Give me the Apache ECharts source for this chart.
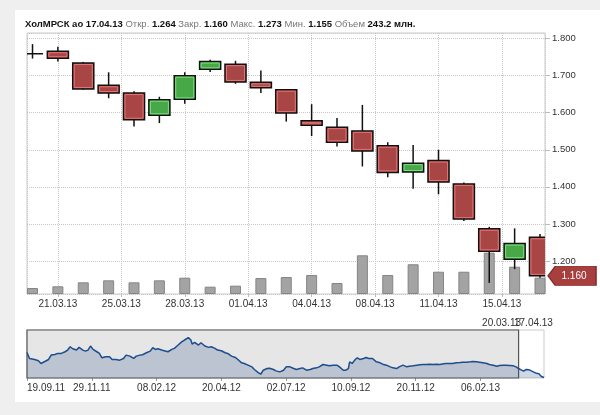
<!DOCTYPE html>
<html>
<head>
<meta charset="utf-8">
<script src="https://cdn.jsdelivr.net/npm/echarts@6/dist/echarts.min.js"></script>
<style>
html, body { margin: 0; padding: 0; background: #efefef; }
#chart { width: 600px; height: 415px; }
</style>
</head>
<body>
<div id="chart"></div>
<script>
// торговые дни в окне
let dates = ['20.03.13', '21.03.13', '22.03.13', '25.03.13', '26.03.13', '27.03.13', '28.03.13',
    '29.03.13', '01.04.13', '02.04.13', '03.04.13', '04.04.13', '05.04.13', '08.04.13',
    '09.04.13', '10.04.13', '11.04.13', '12.04.13', '15.04.13', '16.04.13', '17.04.13'];
let opens  = [1.759, 1.766, 1.734, 1.674, 1.653, 1.593, 1.636, 1.717, 1.731, 1.682, 1.662,
    1.578, 1.561, 1.551, 1.511, 1.440, 1.471, 1.408, 1.287, 1.205, 1.264];
let closes = [1.759, 1.747, 1.664, 1.653, 1.581, 1.635, 1.700, 1.738, 1.683, 1.667, 1.599,
    1.566, 1.520, 1.497, 1.439, 1.464, 1.413, 1.313, 1.226, 1.247, 1.160];
let lows   = [1.746, 1.738, 1.662, 1.639, 1.563, 1.572, 1.624, 1.710, 1.678, 1.653, 1.576,
    1.537, 1.509, 1.455, 1.426, 1.395, 1.380, 1.308, 1.141, 1.178, 1.155];
let highs  = [1.785, 1.778, 1.737, 1.709, 1.658, 1.643, 1.709, 1.743, 1.740, 1.714, 1.663,
    1.623, 1.586, 1.621, 1.520, 1.513, 1.500, 1.412, 1.292, 1.288, 1.273];
// объем, млн.
let volumes = [89, 115, 174, 204, 174, 204, 243, 109, 124, 238, 253, 283, 164, 577, 283,
    443, 332, 332, 616, 407, 243.2];
let xTickLabels = ['21.03.13', '25.03.13', '28.03.13', '01.04.13', '04.04.13', '08.04.13', '11.04.13', '15.04.13'];

// навигатор: номер торгового дня и цена закрытия (до начала окна)
let navDay = [0, 2, 6, 9, 11, 14, 17, 19, 22, 24, 27, 30, 32, 34, 36, 39, 41, 44, 46, 48, 50, 52, 55,
    57, 59, 62, 65, 67, 70, 73, 76, 78, 81, 84, 86, 89, 91, 94, 97, 99, 101, 103, 106, 108, 111, 114,
    116, 119, 122, 124, 127, 129, 130, 132, 133, 135, 137, 140, 143, 145, 148, 150, 153, 156, 158,
    161, 164, 166, 169, 171, 174, 177, 179, 182, 184, 186, 189, 191, 194, 196, 199, 202, 204, 207,
    210, 212, 215, 217, 220, 223, 225, 228, 230, 233, 236, 238, 241, 244, 246, 249, 251, 253, 254,
    256, 258, 260, 262, 265, 267, 269, 270, 272, 275, 278, 280, 283, 286, 288, 291, 293, 296, 299,
    301, 304, 307, 309, 312, 314, 317, 320, 322, 325, 328, 330, 333, 335, 338, 341, 343, 346, 349,
    351, 354, 356, 359, 362, 364, 367, 370, 372, 375, 377, 380, 383, 385];
let navClose = [2.824, 2.424, 2.358, 2.269, 2.091, 2.224, 2.358, 2.647, 2.691, 2.758, 2.758, 2.869,
    2.98, 3.202, 3.069, 2.98, 3.158, 2.98, 2.913, 2.98, 3.247, 3.024, 2.869, 2.758, 2.469, 2.536,
    2.536, 2.358, 2.358, 2.313, 2.424, 2.647, 2.58, 2.424, 2.58, 2.647, 2.669, 2.802, 2.913, 3.136,
    3.024, 3.069, 2.98, 2.936, 2.869, 3.024, 3.091, 3.313, 3.536, 3.647, 3.802, 3.647, 3.38, 3.491,
    3.602, 3.313, 3.469, 3.247, 3.158, 3.202, 3.091, 2.98, 2.936, 2.802, 2.758, 2.58, 2.491, 2.358,
    2.136, 2.091, 1.98, 1.869, 1.691, 1.491, 1.38, 1.647, 1.758, 1.78, 1.691, 1.602, 1.536, 1.647,
    1.869, 1.869, 1.758, 1.691, 1.758, 1.802, 1.647, 1.691, 1.758, 1.802, 1.869, 2.024, 1.98, 1.936,
    1.98, 1.98, 1.869, 1.647, 1.647, 1.758, 2.202, 2.091, 2.313, 2.469, 2.358, 2.424, 2.491, 2.424,
    2.536, 2.424, 2.202, 2.136, 2.047, 1.98, 1.869, 1.802, 1.758, 1.869, 1.98, 1.869, 1.913, 1.936,
    1.98, 2.002, 2.024, 2.024, 2.047, 2.024, 2.047, 2.024, 2.069, 2.091, 2.091, 2.091, 2.136, 2.158,
    2.18, 2.18, 2.202, 2.224, 2.202, 2.18, 2.136, 2.091, 2.024, 1.98, 1.913, 1.958, 1.98, 1.98,
    1.958, 1.936, 1.869];
let navTickLabels = ['19.09.11', '29.11.11', '08.02.12', '20.04.12', '02.07.12', '10.09.12', '20.11.12', '06.02.13'];

let font = 'Liberation Sans, Arial, sans-serif';
let last = dates.length - 1;
let xPos = i => i + 1.5;
let windowStart = 387;

let candleData = dates.map((d, i) => [xPos(i), opens[i], closes[i], lows[i], highs[i]]);
let volumeData = volumes.map((v, i) => [xPos(i), v]);
let navData = navDay.map((d, i) => [d, navClose[i]]);
closes.forEach((c, i) => navData.push([windowStart + i, c]));
let navMax = windowStart + last;

let titleText = '{n|ХолМРСК ао ' + dates[last] + '} {l|Откр.} {v|' + opens[last].toFixed(3) +
    '} {l|Закр.} {v|' + closes[last].toFixed(3) + '} {l|Макс.} {v|' + highs[last].toFixed(3) +
    '} {l|Мин.} {v|' + lows[last].toFixed(3) + '} {l|Объем} {v|' + volumes[last].toFixed(1) + ' млн.}';

// свеча: тень, тело с черной рамкой и светлой внутренней обводкой
function renderCandle(params, api) {
    let x = api.value(0), o = api.value(1), c = api.value(2), l = api.value(3), h = api.value(4);
    let top = api.coord([x, Math.max(o, c)]);
    let bot = api.coord([x, Math.min(o, c)]);
    let hi = api.coord([x, h]);
    let lo = api.coord([x, l]);
    let w = api.size([1, 0])[0] * 0.83;
    let up = c > o, doji = c === o;
    let bodyH = bot[1] - top[1];
    let children = [
        { type: 'line', shape: { x1: hi[0], y1: hi[1], x2: lo[0], y2: lo[1] }, style: { stroke: '#111', lineWidth: 1.5 } },
        {
            type: 'rect', shape: { x: top[0] - w / 2, y: top[1], width: w, height: bodyH },
            style: { fill: doji ? '#111' : (up ? '#46a846' : '#a84646'), stroke: '#111', lineWidth: 1.5 }
        }
    ];
    if (!doji && bodyH > 4) {
        children.push({
            type: 'rect', shape: { x: top[0] - w / 2 + 1.5, y: top[1] + 1.5, width: w - 3, height: bodyH - 3 },
            style: { fill: 'none', stroke: up ? '#7fdc7f' : '#e87474', lineWidth: 1 }
        });
    }
    return { type: 'group', children: children };
}

let option = {
    backgroundColor: '#efefef',
    animation: false,
    textStyle: { fontFamily: font },
    graphic: [
        { type: 'rect', z: -10, shape: { x: 15, y: 10, width: 600, height: 392 }, style: { fill: '#fff' } },
        { type: 'text', x: 521, y: 323, style: { text: dates[0], align: 'right', verticalAlign: 'middle', fontSize: 10, fontFamily: font, fill: '#333' } },
        { type: 'text', x: 514, y: 323, style: { text: dates[last], align: 'left', verticalAlign: 'middle', fontSize: 10, fontFamily: font, fill: '#333' } }
    ],
    title: {
        left: 25, top: 19, padding: 0,
        text: titleText,
        textStyle: {
            fontSize: 9.5, fontWeight: 'normal',
            rich: {
                n: { fontSize: 9.5, color: '#111', fontWeight: 'bold', fontFamily: font },
                l: { fontSize: 9.5, color: '#777', fontWeight: 'normal', fontFamily: font },
                v: { fontSize: 9.5, color: '#111', fontWeight: 'bold', fontFamily: font }
            }
        }
    },
    grid: [
        { left: 27, right: 55, top: 33, height: 261, show: true, borderColor: '#c5cfc5', borderWidth: 1, backgroundColor: '#fff' },
        { left: 27, right: 56, top: 330, height: 48, show: true, borderColor: '#c5cfc5', borderWidth: 1, backgroundColor: '#fff' }
    ],
    xAxis: [
        {
            type: 'value', gridIndex: 0, min: 1.283, max: 21.697, minInterval: 2.5, maxInterval: 2.5,
            axisLine: { show: false },
            axisTick: { show: true, length: 3, lineStyle: { color: '#bbb' } },
            axisLabel: {
                fontSize: 10, color: '#333', margin: 5, showMinLabel: false, showMaxLabel: false,
                formatter: v => xTickLabels[Math.round(v / 2.5) - 1] || ''
            },
            splitLine: { show: true, lineStyle: { type: 'dotted', color: '#c8c8c8' } }
        },
        {
            type: 'value', gridIndex: 1, min: 0, max: navMax, interval: 51,
            axisLine: { show: false },
            axisTick: { show: true, length: 3, lineStyle: { color: '#999' } },
            axisLabel: {
                fontSize: 10, color: '#333', margin: 5, showMaxLabel: false, alignMinLabel: 'left',
                formatter: v => navTickLabels[Math.round(v / 51)] || ''
            },
            splitLine: { show: false }
        }
    ],
    yAxis: [
        {
            type: 'value', gridIndex: 0, position: 'right', min: 1.111, max: 1.815,
            minInterval: 0.1, maxInterval: 0.1,
            axisLine: { show: false },
            axisTick: { show: true, length: 5, lineStyle: { color: '#bbb' } },
            axisLabel: {
                fontSize: 9.5, color: '#333', margin: 7, showMinLabel: false, showMaxLabel: false,
                formatter: v => v.toFixed(3)
            },
            splitLine: { show: true, lineStyle: { type: 'dotted', color: '#c8c8c8' } }
        },
        { type: 'value', gridIndex: 0, min: 0, max: 3890, show: false },
        { type: 'value', gridIndex: 1, min: 1.13, max: 4.31, show: false }
    ],
    series: [
        {
            name: 'Объем', type: 'bar', xAxisIndex: 0, yAxisIndex: 1, clip: true,
            data: volumeData, barWidth: 11, z: 1,
            itemStyle: { color: '#a3a3a3', borderColor: '#858585', borderWidth: 1 }
        },
        {
            name: 'ХолМРСК ао', type: 'custom', xAxisIndex: 0, yAxisIndex: 0, clip: true,
            data: candleData, encode: { x: 0, y: [1, 2, 3, 4] }, z: 3,
            renderItem: renderCandle
        },
        {
            name: 'Последняя цена', type: 'scatter', xAxisIndex: 0, yAxisIndex: 0, clip: false, z: 5,
            data: [[xPos(last), closes[last]]],
            symbol: 'path://M0,10 L9,0 L60,0 L60,20 L9,20 Z',
            symbolSize: [48, 19],
            symbolKeepAspect: false,
            symbolOffset: [32, 0],
            itemStyle: { color: '#a83f3f', borderColor: '#8a2a2a', borderWidth: 1, opacity: 1 },
            label: {
                show: true, position: 'inside', offset: [2, 0], color: '#fff', fontSize: 10,
                formatter: p => p.value[1].toFixed(3)
            }
        },
        {
            name: 'Навигатор', type: 'line', xAxisIndex: 1, yAxisIndex: 2,
            data: navData, showSymbol: false, z: 3,
            lineStyle: { color: '#1d4d8d', width: 1.5 },
            areaStyle: { color: 'rgba(40,70,130,0.3)' },
            markArea: {
                silent: true,
                itemStyle: { color: '#e6e6e6', borderColor: '#555', borderWidth: 1.2 },
                data: [[{ xAxis: 0 }, { xAxis: windowStart }]]
            }
        }
    ]
};

let chart = echarts.init(document.getElementById('chart'));
chart.setOption(option);
</script>
</body>
</html>
